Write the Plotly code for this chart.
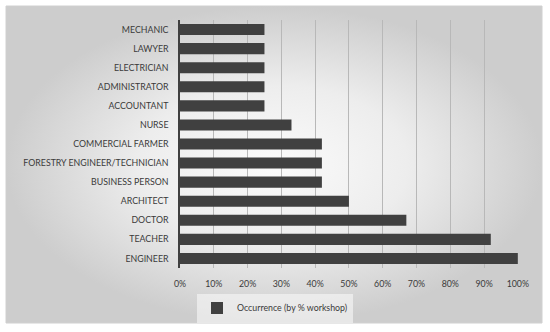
import plotly.graph_objects as go

categories = ["MECHANIC", "LAWYER", "ELECTRICIAN", "ADMINISTRATOR", "ACCOUNTANT", "NURSE",
              "COMMERCIAL FARMER", "FORESTRY ENGINEER/TECHNICIAN", "BUSINESS PERSON",
              "ARCHITECT", "DOCTOR", "TEACHER", "ENGINEER"]
values = [0.25, 0.25, 0.25, 0.25, 0.25, 0.33, 0.42, 0.42, 0.42, 0.50, 0.67, 0.92, 1.00]
series_name = "Occurrence (by % workshop)"
tick_vals = [0, 0.1, 0.2, 0.3, 0.4, 0.5, 0.6, 0.7, 0.8, 0.9, 1.0]

W, H = 550, 332
font = dict(family="Lato, 'Open Sans', sans-serif", size=8.8, color="#3a3a3a")

fig = go.Figure()

# background gradient panel
fig.add_trace(go.Scatter(
    x=[0, 1, 1, 0, 0], y=[0, 0, 1, 1, 0], mode="lines", fill="toself",
    fillgradient=dict(type="radial", colorscale=[[0, "#fbfbfb"], [0.5, "#ededed"], [1, "#cdcdcd"]]),
    line=dict(width=0), hoverinfo="skip", showlegend=False, xaxis="x", yaxis="y"))

fig.add_trace(go.Bar(
    x=values, y=categories, orientation="h", name=series_name,
    marker=dict(color="#404040", line=dict(width=0)),
    xaxis="x2", yaxis="y2", showlegend=True))

fig.update_layout(
    template="none",
    width=W, height=H, margin=dict(l=0, r=0, t=0, b=0, autoexpand=False),
    paper_bgcolor="white", plot_bgcolor="rgba(0,0,0,0)",
    font=font, bargap=0.42,
    xaxis=dict(domain=[6 / W, 542 / W], range=[0, 1], visible=False, fixedrange=True,
               automargin=False),
    yaxis=dict(domain=[1 - 323 / H, 1 - 6 / H], range=[0, 1], visible=False, fixedrange=True,
               automargin=False),
    xaxis2=dict(domain=[180 / W, 518 / W], anchor="y2", range=[0, 1.0005],
                tickvals=tick_vals, tickformat=".0%", showgrid=True, automargin=False,
                gridcolor="#b8b8b8", gridwidth=1, zeroline=False, showline=False,
                ticks="", ticklabelstandoff=9, tickfont=font),
    yaxis2=dict(domain=[1 - 268 / H, 1 - 20 / H], anchor="x2", autorange="reversed",
                type="category", showline=True, linecolor="#404040", linewidth=1.5,
                automargin=False, zeroline=False,
                ticks="", ticklabelstandoff=8, tickfont=font, showgrid=False),
    legend=dict(orientation="h", x=0.5, xanchor="center", y=1 - 308 / H, yanchor="middle",
                bgcolor="rgba(248,248,248,0.6)", font=font, itemwidth=30),
    shapes=[dict(type="rect", xref="paper", yref="paper", x0=6 / W, x1=542 / W,
                 y0=1 - 323 / H, y1=1 - 6 / H, line=dict(color="#d0d0d0", width=1),
                 fillcolor="rgba(0,0,0,0)", layer="above")],
)

fig.write_html("out.html", post_script="document.body.style.margin='0';",
               config={"displayModeBar": False})
